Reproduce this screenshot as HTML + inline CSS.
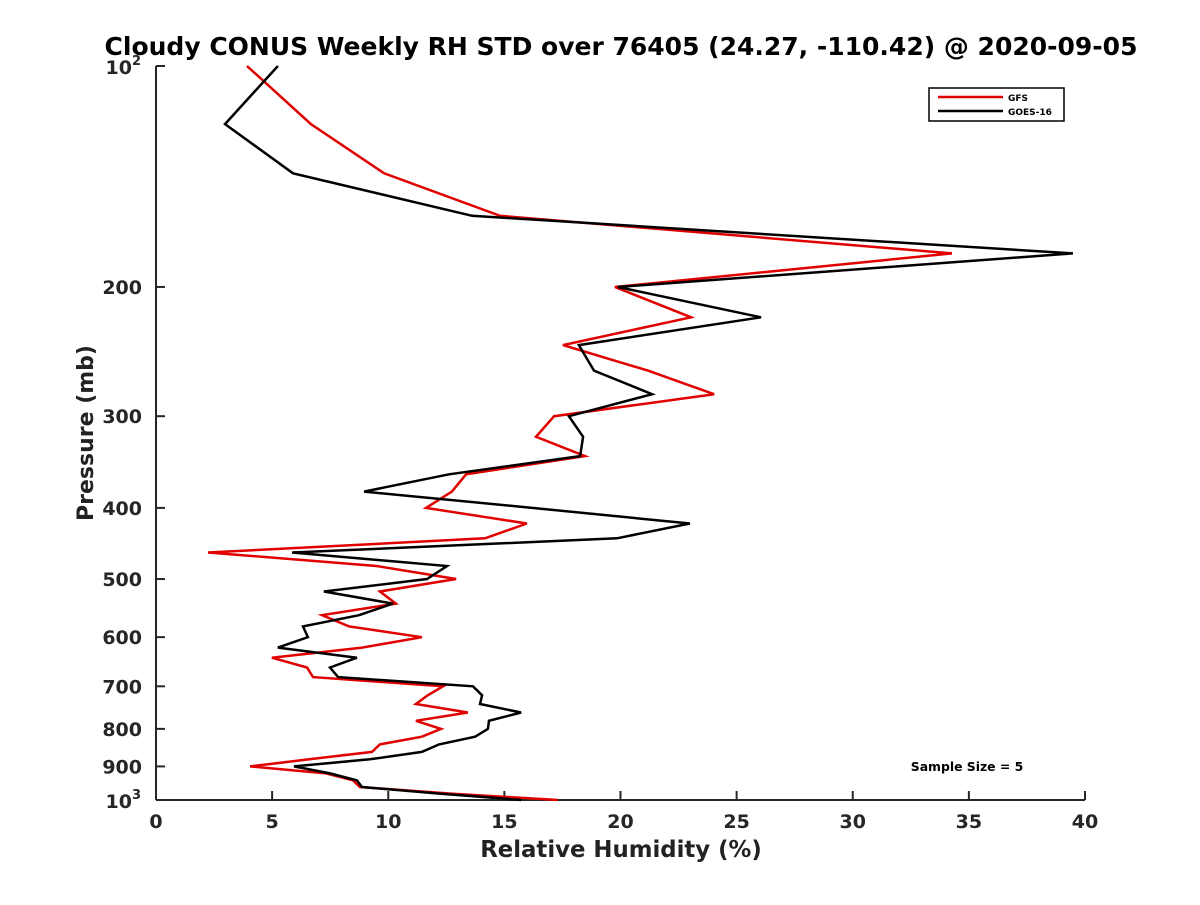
<!DOCTYPE html>
<html><head><meta charset="utf-8"><style>
body{margin:0;background:#fff;}
svg text{font-family:"DejaVu Sans","Liberation Sans",sans-serif;font-weight:bold;}
</style></head><body>
<svg id="chart" width="1200" height="900" xmlns="http://www.w3.org/2000/svg">
<rect width="1200" height="900" fill="#fff"/>
<text x="621" y="55" font-size="25" text-anchor="middle" fill="#000">Cloudy CONUS Weekly RH STD over 76405 (24.27, -110.42) @ 2020-09-05</text>
<g id="axes"></g>
<g id="series"></g>
<g>
<rect x="929" y="88" width="135" height="33" fill="#fff" stroke="#000" stroke-width="1.5"/>
<line x1="938" y1="97" x2="1003" y2="97" stroke="#e00000" stroke-width="2.5"/>
<text x="1008" y="101" font-size="9" fill="#000">GFS</text>
<line x1="938" y1="111" x2="1003" y2="111" stroke="#000" stroke-width="2.5"/>
<text x="1008" y="115" font-size="9" fill="#000">GOES-16</text>
</g>
<text x="967" y="771" font-size="12.4" text-anchor="middle" fill="#000">Sample Size = 5</text>
<text x="621" y="857" font-size="22.8" text-anchor="middle" fill="#222">Relative Humidity (%)</text>
<text transform="translate(93,433) rotate(-90)" font-size="22" text-anchor="middle" fill="#222">Pressure (mb)</text>
</svg>
<script>
const pressureLevels=[100,120,140,160,180,200,220,240,260,280,300,320,340,360,380,400,420,440,460,480,500,520,540,560,580,600,620,640,660,680,700,720,740,760,780,800,820,840,860,880,900,920,940,960,980,1000];
const gfsValues=[3.92,6.67,9.82,14.81,34.27,19.76,23.04,17.52,21.18,24.03,17.14,16.36,18.47,13.35,12.74,11.63,15.97,14.17,2.24,9.5,12.92,9.64,10.33,7.15,8.31,11.45,8.87,4.99,6.50,6.76,12.36,11.7,11.19,13.43,11.19,12.27,11.45,9.64,9.30,6.6,4.05,7.32,8.48,8.78,12.7,17.31];
const goesValues=[5.25,2.97,5.90,13.61,39.48,19.89,26.05,18.21,18.86,21.36,17.78,18.39,18.26,12.62,8.96,16.2,22.99,19.85,5.86,12.53,11.67,7.23,10.20,8.74,6.33,6.54,5.25,8.65,7.49,7.84,13.65,14.04,13.95,15.72,14.34,14.29,13.74,12.19,11.45,9.21,5.94,7.49,8.65,8.87,12.2,15.72];
const xTicks=[0,5,10,15,20,25,30,35,40];
const yTicks=[200,300,400,500,600,700,800,900];
const L=156,R=1085,T=66,B=800;
const xs=v=>L+(v-0)/(40-0)*(R-L);
const ys=p=>T+Math.log10(p/100)*(B-T);
const NS="http://www.w3.org/2000/svg";
function mk(tag,attrs,parent,txt){const e=document.createElementNS(NS,tag);for(const k in attrs)e.setAttribute(k,attrs[k]);if(txt!==undefined)e.textContent=txt;parent.appendChild(e);return e;}
const ax=document.getElementById('axes');
const xl=mk('line',{x1:L,y1:B,x2:R,y2:B,stroke:'#262626','stroke-width':2},ax);


const yl=mk('line',{x1:L,y1:T,x2:L,y2:B,stroke:'#262626','stroke-width':2},ax);


xTicks.forEach(v=>{const x=xs(v);
mk('line',{x1:x,y1:B,x2:x,y2:B-9,stroke:'#262626','stroke-width':2},ax);
const t=mk('text',{x:x,y:B+28,'font-size':19,'text-anchor':'middle',fill:'#262626'},ax,String(v));

});
yTicks.forEach(p=>{const y=ys(p);
mk('line',{x1:L,y1:y,x2:L+9,y2:y,stroke:'#262626','stroke-width':2},ax);
const t=mk('text',{x:L-14,y:y+7,'font-size':19,'text-anchor':'end',fill:'#262626'},ax,String(p));

});
[[100,'2'],[1000,'3']].forEach(([p,e])=>{const y=ys(p);
mk('line',{x1:L,y1:y,x2:L+9,y2:y,stroke:'#262626','stroke-width':2},ax);
const t=mk('text',{x:L-24,y:y+8,'font-size':19,'text-anchor':'end',fill:'#262626'},ax,'10');


const s=mk('text',{x:L-24,y:y-1,'font-size':13,'text-anchor':'start',fill:'#262626'},ax,e);

});
const sg=document.getElementById('series');
function line(vals,color,name){const pts=vals.map((v,i)=>xs(v).toFixed(1)+','+ys(pressureLevels[i]).toFixed(1)).join(' ');
const pl=mk('polyline',{points:pts,fill:'none',stroke:color,'stroke-width':2.5,'stroke-linejoin':'miter'},sg);

}
line(gfsValues,'#e00000','gfs-line');
line(goesValues,'#000000','goes16-line');
</script>
</body></html>
